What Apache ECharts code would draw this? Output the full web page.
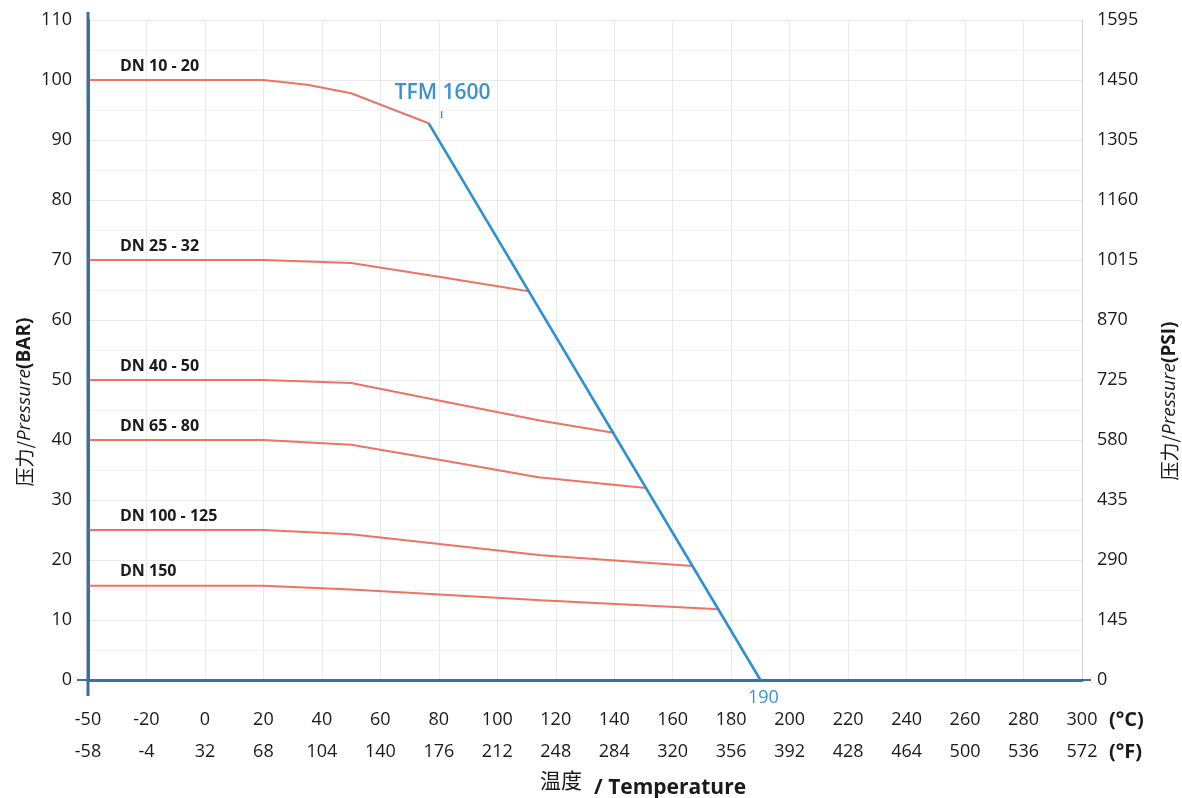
<!DOCTYPE html>
<html><head><meta charset="utf-8">
<script src="https://cdn.jsdelivr.net/npm/echarts@6/dist/echarts.min.js"></script>
<style>html,body{margin:0;padding:0;background:#fff}#c{width:1182px;height:798px}</style>
</head><body><div id="c"></div>
<script>
// Tick labels (°C on top row, °F on bottom row)
const tickC = ['-50','-20','0','20','40','60','80','100','120','140','160','180','200','220','240','260','280','300'];
const tickF = ['-58','-4','32','68','104','140','176','212','248','284','320','356','392','428','464','500','536','572'];

// Series: temperatures (°C) and pressures (bar)
const dn1020T = [-50, 20, 35, 50, 76.5];
const dn1020P = [100, 100, 99.2, 97.8, 92.8];
const dn2532T = [-50, 20, 50, 80, 110.7];
const dn2532P = [70, 70, 69.5, 67.2, 64.8];
const dn4050T = [-50, 20, 50, 80, 115, 139.7];
const dn4050P = [50, 50, 49.5, 46.6, 43.2, 41.2];
const dn6580T = [-50, 20, 50, 86, 114, 150.9];
const dn6580P = [40, 40, 39.2, 36.2, 33.8, 32];
const dn100125T = [-50, 20, 50, 115, 166.8];
const dn100125P = [25, 25, 24.3, 20.8, 19];
const dn150T = [-50, 20, 50, 115, 176];
const dn150P = [15.7, 15.7, 15.1, 13.3, 11.8];
const tfmT = [76.5, 190];
const tfmP = [92.8, 0];

const dnNames = ['DN 10 - 20','DN 25 - 32','DN 40 - 50','DN 65 - 80','DN 100 - 125','DN 150'];
const dnT = [dn1020T, dn2532T, dn4050T, dn6580T, dn100125T, dn150T];
const dnP = [dn1020P, dn2532P, dn4050P, dn6580P, dn100125P, dn150P];

// The original axis is squeezed below -20 °C: the -50 label sits one 20° step left of -20.
function toAxis(t){ return t < -20 ? -20 + (t + 20) * (20/30) : t; }
function pts(T, P){ return T.map((t,i)=>[toAxis(t), P[i]]); }

const RED = '#ec7466', BLUE = '#2e8fd2', AXIS = '#3e6f98', INK = '#1a1a1a';
const FONT = '"Open Sans", "Noto Sans", sans-serif';

const chart = echarts.init(document.getElementById('c'));
const series = dnT.map((T,i)=>({
  name: dnNames[i], type:'line', data: pts(T, dnP[i]), showSymbol:false, symbol:'none',
  lineStyle:{color:RED, width:2}, z:3, silent:true, animation:false
}));
series.push({name:'TFM 1600', type:'line', data: pts(tfmT, tfmP), symbol:'none',
  lineStyle:{color:BLUE, width:2.6}, z:4, silent:true, animation:false});

chart.setOption({
  animation:false,
  backgroundColor:'#fff',
  grid:{left:88, right:100, top:20, bottom:118},
  xAxis:{
    type:'value', min:-40, max:300, interval:20,
    axisLine:{show:true, onZero:false, lineStyle:{color:AXIS, width:3}},
    axisTick:{show:false},
    splitLine:{show:true, lineStyle:{color:'#e9e9e9', width:1}},
    axisLabel:{
      margin:24, fontFamily:FONT, fontSize:18, color:INK,
      formatter:(v)=>{ const i=Math.round((v+40)/20); return '{c|'+tickC[i]+'}\n{f|'+tickF[i]+'}'; },
      rich:{c:{fontSize:18, lineHeight:32, fontFamily:FONT, color:INK}, f:{fontSize:18, lineHeight:32, fontFamily:FONT, color:INK}}
    }
  },
  yAxis:[{
    type:'value', min:0, max:110, interval:10, position:'left',
    axisLine:{show:true, onZero:false, lineStyle:{color:AXIS, width:3}},
    axisTick:{show:false},
    minorTick:{show:false, splitNumber:2},
    minorSplitLine:{show:true, lineStyle:{color:'#f3f3f3'}},
    splitLine:{show:true, lineStyle:{color:'#e9e9e9'}},
    axisLabel:{margin:16, fontFamily:FONT, fontSize:18, color:INK}
  },{
    type:'value', min:0, max:1595, interval:145, position:'right',
    axisLine:{show:true, onZero:false, lineStyle:{color:'#cfd3d8', width:1}},
    axisTick:{show:false},
    splitLine:{show:false},
    axisLabel:{margin:15, fontFamily:FONT, fontSize:18, color:INK, formatter:(v)=>String(v)}
  }],
  series: series
});

// Annotations placed via the chart's own coordinate conversion
const g = [];
dnT.forEach((T,i)=>{
  const p = chart.convertToPixel({xAxisIndex:0, yAxisIndex:0}, [toAxis(T[0]), dnP[i][0]]);
  g.push({type:'text', x:p[0]+32, y:p[1]-14, z:10,
    style:{text:dnNames[i], fill:INK, font:'bold 16px '+FONT, textAlign:'left', textVerticalAlign:'middle'}});
});
const tfmTop = chart.convertToPixel({xAxisIndex:0, yAxisIndex:0}, [toAxis(tfmT[0]), tfmP[0]]);
g.push({type:'text', x:tfmTop[0]+14, y:tfmTop[1]-30, z:10,
  style:{text:'TFM 1600', fill:'#3a91d3', font:'600 21px '+FONT, textAlign:'center', textVerticalAlign:'middle'}});
g.push({type:'line', z:10, shape:{x1:tfmTop[0]+13, y1:tfmTop[1]-12, x2:tfmTop[0]+13, y2:tfmTop[1]-5}, style:{stroke:'#3a91d3', lineWidth:1.5}});
const tfmBot = chart.convertToPixel({xAxisIndex:0, yAxisIndex:0}, [toAxis(tfmT[1]), tfmP[1]]);
g.push({type:'text', x:tfmBot[0]+3, y:tfmBot[1]+18, z:10,
  style:{text:'190', fill:'#3a91d3', font:'18px '+FONT, textAlign:'center', textVerticalAlign:'middle'}});

// Axis-line overshoots at the corners, as in the original drawing
const o = chart.convertToPixel({xAxisIndex:0, yAxisIndex:0}, [-40, 0]);
const tl = chart.convertToPixel({xAxisIndex:0, yAxisIndex:0}, [-40, 110]);
const br = chart.convertToPixel({xAxisIndex:0, yAxisIndex:0}, [300, 0]);
g.push({type:'line', z:9, shape:{x1:o[0], y1:tl[1]-8, x2:o[0], y2:o[1]+16}, style:{stroke:AXIS, lineWidth:3}});
g.push({type:'line', z:9, shape:{x1:o[0]-11, y1:o[1], x2:o[0], y2:o[1]}, style:{stroke:AXIS, lineWidth:2}});
g.push({type:'line', z:9, shape:{x1:br[0], y1:br[1], x2:br[0]+9, y2:br[1]}, style:{stroke:AXIS, lineWidth:2}});

// Units at the end of the tick rows
g.push({type:'text', x:1109, y:720, style:{text:'(°C)', fill:INK, font:'bold 20px '+FONT, textAlign:'left', textVerticalAlign:'middle'}});
g.push({type:'text', x:1109, y:752, style:{text:'(°F)', fill:INK, font:'bold 20px '+FONT, textAlign:'left', textVerticalAlign:'middle'}});

// Axis names
g.push({type:'text', x:540, y:780, style:{text:'温度', fill:INK, font:'21px "Noto Sans CJK SC", sans-serif', textAlign:'left', textVerticalAlign:'middle'}});
g.push({type:'text', x:594, y:788, style:{text:'/ Temperature', fill:INK, font:'bold 21px '+FONT, textAlign:'left', textVerticalAlign:'middle'}});
const nameRich = {
  a:{fontFamily:'"Noto Sans CJK SC", sans-serif', fontSize:19, fill:INK},
  b:{fontFamily:FONT, fontStyle:'italic', fontSize:19, fill:INK},
  c:{fontFamily:FONT, fontWeight:'bold', fontSize:19, fill:INK}
};
g.push({type:'text', x:25, y:402, rotation:Math.PI/2,
  style:{text:'{a|压力/}{b|Pressure}{c|(BAR)}', rich:nameRich, textAlign:'center', textVerticalAlign:'middle'}});
g.push({type:'text', x:1170, y:401, rotation:Math.PI/2,
  style:{text:'{a|压力/}{b|Pressure}{c|(PSI)}', rich:nameRich, textAlign:'center', textVerticalAlign:'middle'}});

chart.setOption({graphic:g});
</script></body></html>
